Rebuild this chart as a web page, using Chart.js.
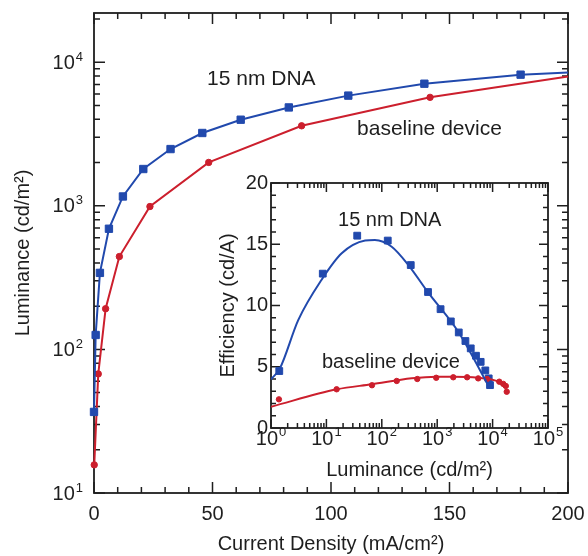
<!DOCTYPE html>
<html>
<head>
<meta charset="utf-8">
<script src="https://cdn.jsdelivr.net/npm/chart.js@4.4.1/dist/chart.umd.min.js"></script>
<style>
  html, body { margin: 0; padding: 0; background: #fff; }
  #wrap { position: relative; width: 588px; height: 556px; }
  #main { position: absolute; left: 0; top: 0; }
  #inset { position: absolute; left: 200px; top: 165px; }
</style>
</head>
<body>
<div id="wrap">
  <canvas id="main" width="588" height="556"></canvas>
  <canvas id="inset" width="365" height="320"></canvas>
</div>
<script>
// main panel: luminance vs current density
const jDna    = [0, 0.7, 2.5, 6.3, 12.2, 20.8, 32.3, 45.7, 61.9, 82.2, 107.3, 139.4, 180, 200];
const lumDna  = [36.7, 126, 341, 692, 1161, 1803, 2483, 3213, 3975, 4840, 5850, 7080, 8185, 8490];
const jBase   = [0.1, 1.8, 4.9, 10.7, 23.6, 48.4, 87.6, 141.8, 200];
const lumBase = [15.7, 67.5, 192, 443, 988, 2004, 3605, 5690, 7950];

// inset: efficiency vs luminance (measured points)
const inLumDna  = [1.41, 8.6, 36, 128, 333, 683, 1150, 1760, 2450, 3230, 4030, 5010, 6090, 7390, 8500, 8980];
const inEffDna  = [4.65, 12.6, 15.7, 15.3, 13.3, 11.1, 9.7, 8.7, 7.8, 7.1, 6.5, 5.9, 5.4, 4.7, 4.05, 3.5];
const inLumBase = [1.39, 15.3, 66.5, 186, 437, 960, 1950, 3470, 5500, 7950, 13200, 15600, 17300, 18000];
const inEffBase = [2.34, 3.16, 3.49, 3.84, 4.0, 4.1, 4.14, 4.14, 4.05, 4.0, 3.78, 3.6, 3.43, 2.96];

// inset: fitted curves
const fitLumDna  = [1, 1.45, 3.1, 8.2, 18.9, 50, 75, 151, 302, 690, 2400, 8300];
const fitEffDna  = [3.97, 4.87, 8.8, 12.1, 14.26, 15.3, 15.35, 14.8, 13.3, 11.05, 7.86, 3.5];
const fitLumBase = [1, 15.5, 66, 347, 977, 1950, 5500, 11750, 17400];
const fitEffBase = [1.74, 3.16, 3.57, 4.06, 4.19, 4.19, 4.1, 3.84, 3.29];

const mainXTicks = [0, 50, 100, 150, 200];
const mainYTicks = [10, 100, 1000, 10000];
const inXTicks = [1, 10, 100, 1000, 10000, 100000];
const inYTicks = [0, 5, 10, 15, 20];

const BLUE = '#2149ad';
const RED = '#cc1f2d';
const INK = '#1e1e1e';
const FAMILY = '"Liberation Sans", Arial, sans-serif';
const FONT = { family: FAMILY, size: 20 };

const pts = (xs, ys) => xs.map((x, i) => ({ x, y: ys[i] }));

function tickMarks(scale, spec) {
  const out = [];
  if (spec.log) {
    for (let e = Math.floor(Math.log10(scale.min)); Math.pow(10, e) <= scale.max; e++) {
      for (let m = 1; m <= 9; m++) {
        const v = m * Math.pow(10, e);
        if (v < scale.min * 0.999 || v > scale.max * 1.001) continue;
        out.push([v, m === 1 ? spec.major : spec.minor]);
      }
    }
  } else {
    for (let v = scale.min; v <= scale.max + 1e-9; v += spec.step) {
      const isMajor = Math.abs(v / spec.every - Math.round(v / spec.every)) < 1e-6;
      out.push([v, isMajor ? spec.major : spec.minor]);
    }
  }
  return out;
}

// "10" with a raised exponent
function drawPow(ctx, v, x, y, align, rise) {
  const e = String(Math.round(Math.log10(v)));
  ctx.font = '20px ' + FAMILY;
  const w1 = ctx.measureText('10').width;
  ctx.font = '13px ' + FAMILY;
  const w2 = ctx.measureText(e).width;
  const x0 = align === 'right' ? x - w1 - w2 - 1 : x - (w1 + w2 + 1) / 2;
  ctx.textAlign = 'left';
  ctx.textBaseline = 'middle';
  ctx.font = '20px ' + FAMILY;
  ctx.fillText('10', x0, y);
  ctx.font = '13px ' + FAMILY;
  ctx.fillText(e, x0 + w1 + 1, y - rise);
}

// frame + inward ticks on all four sides, power-of-ten labels, notes on the curves
const decor = {
  id: 'decor',
  beforeDatasetsDraw(chart, args, o) {
    const { ctx, chartArea: a, scales } = chart;
    ctx.save();
    ctx.strokeStyle = INK;
    ctx.lineWidth = 1.5;
    ctx.beginPath();
    tickMarks(scales.x, o.x).forEach(([v, len]) => {
      const px = scales.x.getPixelForValue(v);
      ctx.moveTo(px, a.bottom); ctx.lineTo(px, a.bottom - len);
      ctx.moveTo(px, a.top); ctx.lineTo(px, a.top + len);
    });
    tickMarks(scales.y, o.y).forEach(([v, len]) => {
      const py = scales.y.getPixelForValue(v);
      ctx.moveTo(a.left, py); ctx.lineTo(a.left + len, py);
      ctx.moveTo(a.right, py); ctx.lineTo(a.right - len, py);
    });
    ctx.stroke();
    ctx.lineWidth = 1.8;
    ctx.strokeRect(a.left, a.top, a.right - a.left, a.bottom - a.top);
    ctx.restore();
  },
  afterDraw(chart, args, o) {
    const { ctx, chartArea: a, scales } = chart;
    ctx.save();
    ctx.fillStyle = INK;
    if (o.powY) {
      scales.y.ticks.forEach(t => drawPow(ctx, t.value, a.left - o.powY.pad, scales.y.getPixelForValue(t.value) + 1, 'right', o.powY.rise));
    }
    if (o.powX) {
      scales.x.ticks.forEach(t => drawPow(ctx, t.value, scales.x.getPixelForValue(t.value), a.bottom + o.powX.pad, 'center', o.powX.rise));
    }
    ctx.font = o.fontSize + 'px ' + FAMILY;
    ctx.textBaseline = 'middle';
    ctx.textAlign = 'left';
    o.notes.forEach(n => {
      ctx.fillText(n.text, scales.x.getPixelForValue(n.x), scales.y.getPixelForValue(n.y));
    });
    ctx.restore();
  }
};

// fixed axis boxes so the plot areas land where the figure has them
const fixW = w => s => { s.width = w; s.paddingTop = s.paddingBottom = s.paddingLeft = s.paddingRight = 0; };
const fixH = h => s => { s.height = h; s.paddingTop = s.paddingBottom = s.paddingLeft = s.paddingRight = 0; };
const noGrid = { display: false, drawTicks: false };

const common = {
  responsive: false,
  animation: false,
  events: [],
};

new Chart(document.getElementById('main'), {
  type: 'scatter',
  data: {
    datasets: [
      {
        label: '15 nm DNA',
        data: pts(jDna, lumDna),
        showLine: true,
        borderColor: BLUE, backgroundColor: BLUE, borderWidth: 2,
        pointStyle: 'rect',
        pointRadius: c => (c.dataIndex === jDna.length - 1 ? 0 : 5.2),
        pointBorderWidth: 1,
        clip: false
      },
      {
        label: 'baseline device',
        data: pts(jBase, lumBase),
        showLine: true,
        borderColor: RED, backgroundColor: RED, borderWidth: 2,
        pointStyle: 'circle',
        pointRadius: c => (c.dataIndex === jBase.length - 1 ? 0 : 3.2),
        pointBorderWidth: 1,
        clip: false
      }
    ]
  },
  options: {
    ...common,
    layout: { padding: { top: 13, right: 20, left: 0, bottom: 0 } },
    plugins: {
      legend: { display: false },
      tooltip: { enabled: false },
      decor: {
        x: { step: 10, every: 50, major: 11, minor: 6 },
        y: { log: true, major: 11, minor: 6 },
        powY: { pad: 11, rise: 6 },
        fontSize: 21,
        notes: [
          { text: '15 nm DNA', x: 47.7, y: 7550 },
          { text: 'baseline device', x: 111, y: 3410 }
        ]
      }
    },
    scales: {
      x: {
        type: 'linear', min: 0, max: 200,
        grid: noGrid, border: { display: false },
        afterBuildTicks: s => { s.ticks = mainXTicks.map(value => ({ value })); },
        afterFit: fixH(63),
        ticks: { font: FONT, color: INK, padding: 9, maxRotation: 0 },
        title: { display: true, text: 'Current Density (mA/cm²)', font: FONT, color: INK, padding: { top: 0, bottom: 0 } }
      },
      y: {
        type: 'logarithmic', min: 10, max: 22000,
        grid: noGrid, border: { display: false },
        afterBuildTicks: s => { s.ticks = mainYTicks.map(value => ({ value })); },
        afterFit: fixW(94),
        ticks: { display: false },
        title: { display: true, text: 'Luminance (cd/m²)', font: FONT, color: INK, padding: { top: 11, bottom: 0 } }
      }
    }
  },
  plugins: [decor]
});

new Chart(document.getElementById('inset'), {
  type: 'scatter',
  data: {
    datasets: [
      {
        label: 'fit 15 nm DNA',
        data: pts(fitLumDna, fitEffDna),
        showLine: true, cubicInterpolationMode: 'monotone',
        borderColor: BLUE, borderWidth: 2, pointRadius: 0
      },
      {
        label: 'fit baseline',
        data: pts(fitLumBase, fitEffBase),
        showLine: true, cubicInterpolationMode: 'monotone',
        borderColor: RED, borderWidth: 2, pointRadius: 0
      },
      {
        label: 'baseline device',
        data: pts(inLumBase, inEffBase),
        backgroundColor: RED, borderColor: RED,
        pointStyle: 'circle', pointRadius: 2.7, pointBorderWidth: 1, clip: false
      },
      {
        label: '15 nm DNA',
        data: pts(inLumDna, inEffDna),
        backgroundColor: BLUE, borderColor: BLUE,
        pointStyle: 'rect', pointRadius: 4.8, pointBorderWidth: 1, clip: false
      }
    ]
  },
  options: {
    ...common,
    layout: { padding: { top: 18, right: 17, left: 0, bottom: 0 } },
    plugins: {
      legend: { display: false },
      tooltip: { enabled: false },
      decor: {
        x: { log: true, major: 9, minor: 5 },
        y: { step: 1, every: 5, major: 9, minor: 5 },
        powX: { pad: 11, rise: 7 },
        fontSize: 20,
        notes: [
          { text: '15 nm DNA', x: 16.2, y: 16.98 },
          { text: 'baseline device', x: 8.3, y: 5.35 }
        ]
      }
    },
    scales: {
      x: {
        type: 'logarithmic', min: 1, max: 100000,
        grid: noGrid, border: { display: false },
        afterBuildTicks: s => { s.ticks = inXTicks.map(value => ({ value })); },
        afterFit: fixH(57),
        ticks: { display: false },
        title: { display: true, text: 'Luminance (cd/m²)', font: FONT, color: INK, padding: { top: 0, bottom: 3 } }
      },
      y: {
        type: 'linear', min: 0, max: 20,
        grid: noGrid, border: { display: false },
        afterBuildTicks: s => { s.ticks = inYTicks.map(value => ({ value })); },
        afterFit: fixW(71),
        ticks: { font: FONT, color: INK, padding: 3 },
        title: { display: true, text: 'Efficiency (cd/A)', font: FONT, color: INK, padding: { top: 16, bottom: 0 } }
      }
    }
  },
  plugins: [decor]
});
</script>
</body>
</html>
